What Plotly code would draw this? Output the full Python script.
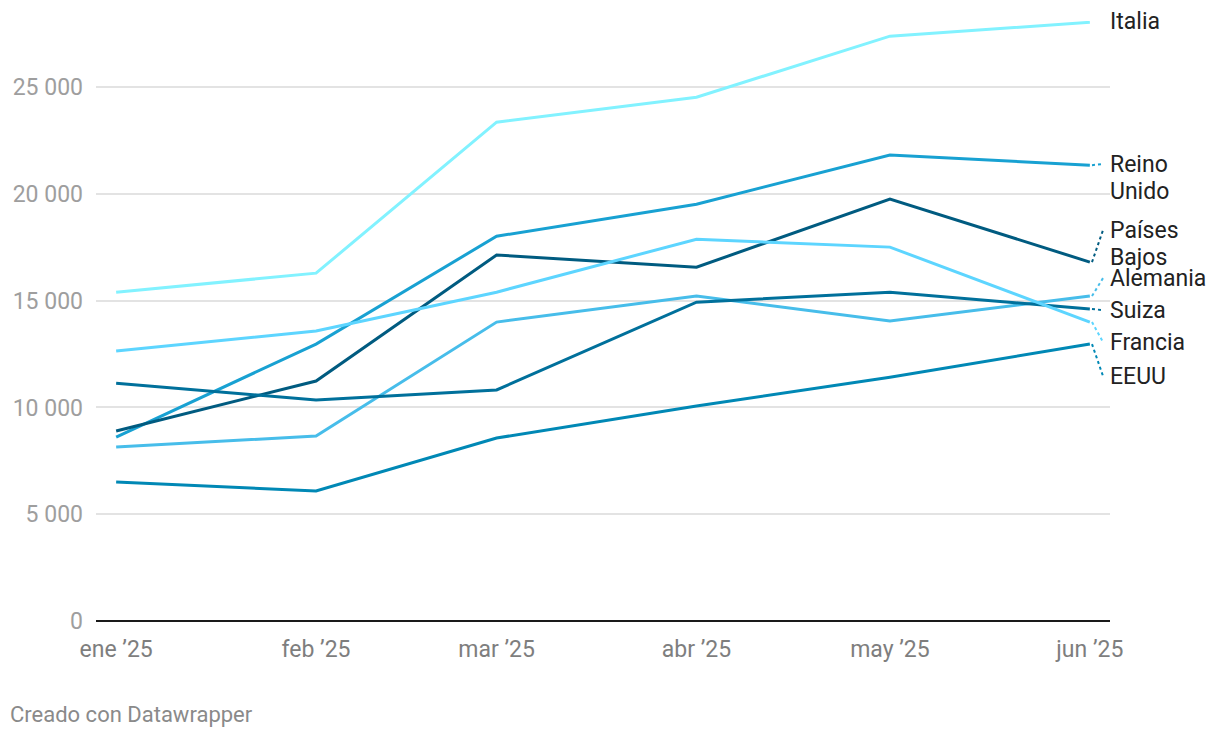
import plotly.graph_objects as go

# ---- data ----
months = ["2025-01-01", "2025-02-01", "2025-03-01", "2025-04-01", "2025-05-01", "2025-06-01"]
month_labels = ["ene ’25", "feb ’25", "mar ’25", "abr ’25", "may ’25", "jun ’25"]

italia = [15400, 16290, 23360, 24530, 27390, 28040]
reino_unido = [8610, 12970, 18020, 19520, 21820, 21350]
paises_bajos = [8900, 11240, 17140, 16570, 19760, 16810]
alemania = [8150, 8660, 14000, 15220, 14050, 15220]
suiza = [11140, 10350, 10820, 14930, 15400, 14610]
francia = [12640, 13580, 15400, 17880, 17510, 14000]
eeuu = [6510, 6090, 8570, 10070, 11420, 12970]

y_ticks = [0, 5000, 10000, 15000, 20000, 25000]
y_tick_labels = ["0", "5 000", "10 000", "15 000", "20 000", "25 000"]

series = [
    (["Italia"], italia, "#82f2ff"),
    (["Reino", "Unido"], reino_unido, "#18a1d2"),
    (["Países", "Bajos"], paises_bajos, "#005b80"),
    (["Alemania"], alemania, "#47bdea"),
    (["Suiza"], suiza, "#00709b"),
    (["Francia"], francia, "#5dd5ff"),
    (["EEUU"], eeuu, "#0088b5"),
]

# label first-line positions (value units) and whether a connector is drawn
label_pos = {
    "Italia": (28090, False),
    "Reino": (21395, True),
    "Países": (18305, True),
    "Alemania": (16058, True),
    "Suiza": (14560, True),
    "Francia": (13062, True),
    "EEUU": (11470, True),
}

fig = go.Figure()
for lines, vals, color in series:
    fig.add_trace(go.Scatter(
        x=months, y=vals, mode="lines", name=" ".join(lines),
        line=dict(color=color, width=3), cliponaxis=False, hoverinfo="skip",
    ))

FW, FH = 1220, 738
L, R, T, B = 96, 110, 21, 117
W = FW - L - R
H = FH - T - B

for lines, vals, color in series:
    ly, conn = label_pos[lines[0]]
    for i, txt in enumerate(lines):
        fig.add_annotation(
            x=1, xref="paper", y=ly, yref="y", text=txt, showarrow=False,
            xanchor="left", yanchor="middle", xshift=-2, yshift=-i * 27,
            font=dict(family="Roboto", size=23, color="#222222"), align="left",
        )
    if conn:
        fig.add_shape(
            type="line", xref="paper", yref="y",
            x0=(1092 - L) / W, x1=(1103 - L) / W, y0=vals[-1], y1=ly,
            line=dict(color=color, width=2, dash="dot"),
        )

fig.add_annotation(
    x=(8 - L) / W, xref="paper", y=(621 - 714) / H, yref="paper",
    text="Creado con Datawrapper", showarrow=False, xanchor="left", yanchor="middle",
    font=dict(family="Roboto", size=22, color="#8a8a8a"),
)

fig.update_layout(
    width=FW, height=FH,
    margin=dict(l=L, r=R, t=T, b=B),
    paper_bgcolor="white", plot_bgcolor="white",
    showlegend=False,
    font=dict(family="Roboto"),
    xaxis=dict(
        type="date",
        range=["2024-12-28 21:00", "2025-06-04 03:00"],
        tickvals=months, ticktext=month_labels,
        showgrid=False, zeroline=False, showline=False, ticks="",
        tickfont=dict(family="Roboto", size=23, color="#7e7e7e"),
        ticklabelstandoff=12,
    ),
    yaxis=dict(
        range=[0, 28100],
        tickvals=y_ticks, ticktext=y_tick_labels,
        showgrid=True, gridcolor="#e3e3e3", gridwidth=1.5,
        zeroline=True, zerolinecolor="#1a1a1a", zerolinewidth=2,
        showline=False, ticks="",
        tickfont=dict(family="Roboto", size=23, color="#9e9e9e"),
        ticklabelstandoff=12,
    ),
)

fig.write_html(
    "out.html",
    config={"displayModeBar": False},
    post_script="document.body.style.margin='0';document.body.style.overflow='hidden';",
)
